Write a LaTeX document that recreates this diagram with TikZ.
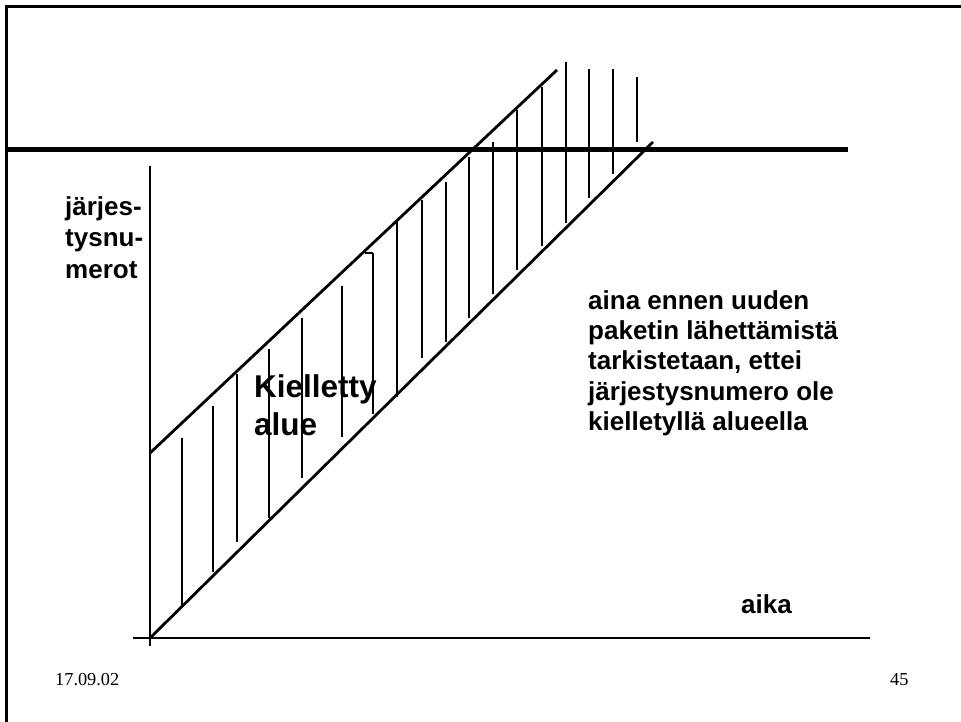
\documentclass[tikz,border=0pt]{standalone}
\usepackage{fontspec}
\setmainfont{Liberation Serif}
\setsansfont{Liberation Sans}
\begin{document}
\begin{tikzpicture}[x=1pt,y=-1pt,
  frame/.style={line width=3pt},
  bar/.style={line width=5pt},
  axisline/.style={line width=1.4pt},
  diag/.style={line width=2.8pt},
  hatch/.style={line width=1.1pt},
  lbl/.style={font=\sffamily\bfseries\fontsize{26}{30}\selectfont, anchor=base west, inner sep=0pt},
  biglbl/.style={font=\sffamily\bfseries\fontsize{31.5}{36}\selectfont, anchor=base west, inner sep=0pt},
  foot/.style={font=\rmfamily\fontsize{18.3}{22}\selectfont, anchor=base west, inner sep=0pt}]
\useasboundingbox (0,0) rectangle (961,722);
% frame
\draw[frame] (6,722) -- (6,7) -- (961,7);
% thick horizontal bar
\draw[bar] (6,150) -- (848,150);
% axes
\coordinate (yTop) at (150,166);
\coordinate (yBot) at (150,646);
\coordinate (xL) at (133,638);
\coordinate (xR) at (870,638);
\draw[axisline] (yTop) -- (yBot);
\draw[axisline] (xL) -- (xR);
% hatch lines
\foreach \x/\t/\b in {182/438/605, 213/406/572, 237/374/542, 269/349/518, 302/318/478,
  342/286/437, 373/253/414, 397/221/397, 422/200/358, 446/182/342, 469/157/318,
  493/142/294, 517/110/270, 542/87/246, 566/62/223, 589/69/198, 613/69/174, 637/77/142}
  \draw[hatch] (\x,\t) -- (\x,\b);
\draw[hatch] (365,253) -- (373,253);
% diagonals
\coordinate (uA) at (150,453);
\coordinate (uB) at (557,70);
\coordinate (lA) at (150,638);
\coordinate (lB) at (653,142);
\draw[diag] (uA) -- (uB);
\draw[diag] (lA) -- (lB);
% texts
\node[lbl] (t1) at (65,216) {järjes-};
\node[lbl] (t2) at (65,247) {tysnu-};
\node[lbl] (t3) at (65,278) {merot};
\node[biglbl] (k1) at (254,397) {Kielletty};
\node[biglbl] (k2) at (254,435) {alue};
\node[lbl] (r1) at (588,309) {aina ennen uuden};
\node[lbl] (r2) at (588,339) {paketin lähettämistä};
\node[lbl] (r3) at (588,369) {tarkistetaan, ettei};
\node[lbl] (r4) at (588,400) {järjestysnumero ole};
\node[lbl] (r5) at (588,430) {kielletyllä alueella};
\node[lbl] (aika) at (741,613) {aika};
\node[foot] (date) at (55,685) {17.09.02};
\node[foot] (num) at (890,685) {45};
\end{tikzpicture}
\end{document}
